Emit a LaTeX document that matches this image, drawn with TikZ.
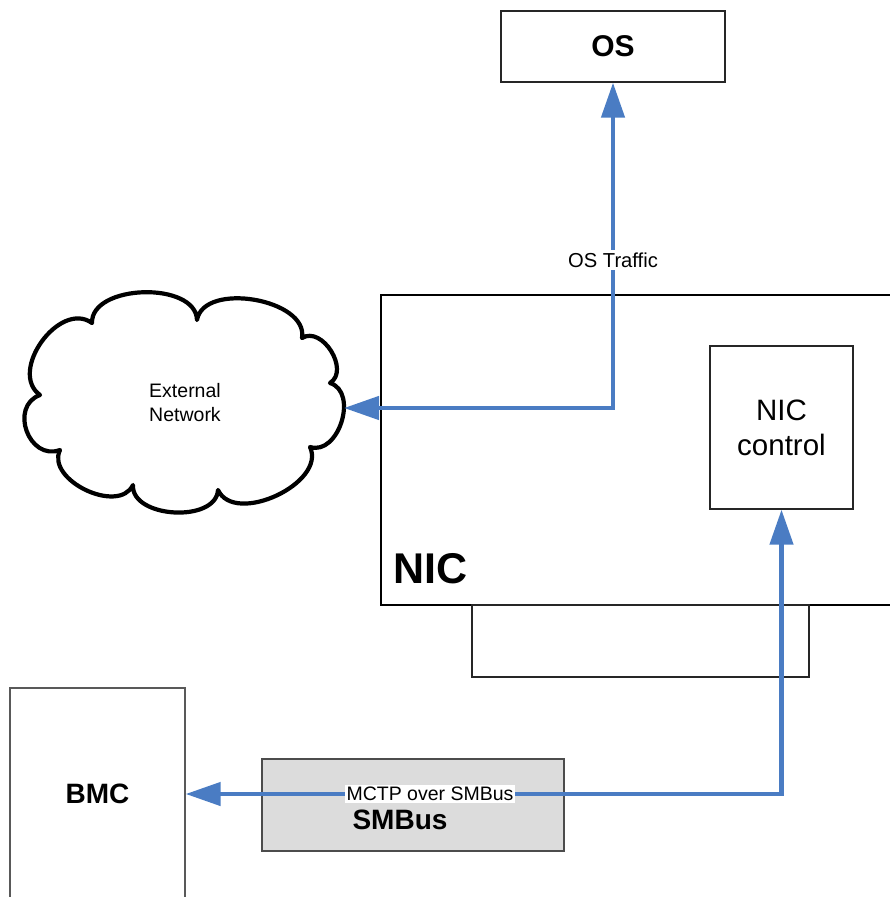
\documentclass[tikz,border=0pt]{standalone}
\usepackage{fontspec}
\setmainfont{Liberation Sans}
\usetikzlibrary{arrows.meta}
\definecolor{flowblue}{HTML}{4A7CC3}
\definecolor{busgray}{HTML}{DCDCDC}
\tikzset{
  box/.style={draw=black!85, line width=1.3pt, rectangle, inner sep=0pt},
  tipa/.tip={Triangle[length=35pt,width=23pt]},
  flow/.style={draw=flowblue, line width=4.5pt, {tipa}-{tipa}},
  lbl/.style={fill=white, inner xsep=1.5pt, inner ysep=2.5pt, font=\fontsize{19.5}{22}\selectfont},
  puff/.style={bend left=90, looseness=#1},
}
\begin{document}
\begin{tikzpicture}[x=1pt,y=-1pt]
\useasboundingbox (0,0) rectangle (890,897);
% OS
\node[box, minimum width=224pt, minimum height=71pt, font=\fontsize{30}{34}\selectfont\bfseries] (os) at (613,46.5) {OS};
% NIC outer (extends beyond right edge)
\draw[black, line width=1.1pt] (891,295) -- (381,295) -- (381,605) -- (891,605);
\node[anchor=base west, inner sep=0pt, font=\fontsize{43}{48}\selectfont\bfseries] (niclbl) at (393,583) {NIC};
% NIC control
\node[box, minimum width=143pt, minimum height=163pt, align=center, font=\fontsize{29.5}{35}\selectfont] (ctrl) at (781.5,427.5) {NIC\\control};
% lower connector box
\node[box, minimum width=337pt, minimum height=72pt] (conn) at (640.5,641) {};
% cloud
\draw[black, line width=4.2pt, line join=round]
  (92,323) to[puff=0.95] (197,320) to[puff=0.95] (302,338) to[puff=1.15] (330,383)
  to[puff=1.15] (310,447) to[puff=1.0] (218,490) to[puff=1.0] (133,485)
  to[puff=1.05] (60,450) to[puff=1.45] (40,395) to[puff=1.15] (92,323) -- cycle;
\node[align=center, font=\fontsize{19.5}{24}\selectfont] (net) at (185,403) {External\\Network};
\coordinate (netedge) at (344,408);
% BMC
\node[box, draw=black!65, minimum width=175pt, minimum height=212pt, font=\fontsize{28}{32}\selectfont\bfseries] (bmc) at (97.5,794) {BMC};
% SMBus
\node[box, draw=black!70, fill=busgray, minimum width=302pt, minimum height=92pt] (smb) at (413,805) {};
\node[inner sep=0pt, font=\fontsize{28}{32}\selectfont\bfseries] (smblbl) at (400,820) {SMBus};
% connectors
\coordinate (port) at (613,408);
\coordinate (corner) at (781.5,794);
\draw[flow] (netedge) -- (port) -- node[lbl, pos=0.454, font=\fontsize{20.2}{22}\selectfont] {OS Traffic} (port |- os.south);
\draw[flow] (corner -| bmc.east) -- node[lbl, pos=0.41] {MCTP over SMBus} (corner) -- (ctrl.south);
\end{tikzpicture}
\end{document}
